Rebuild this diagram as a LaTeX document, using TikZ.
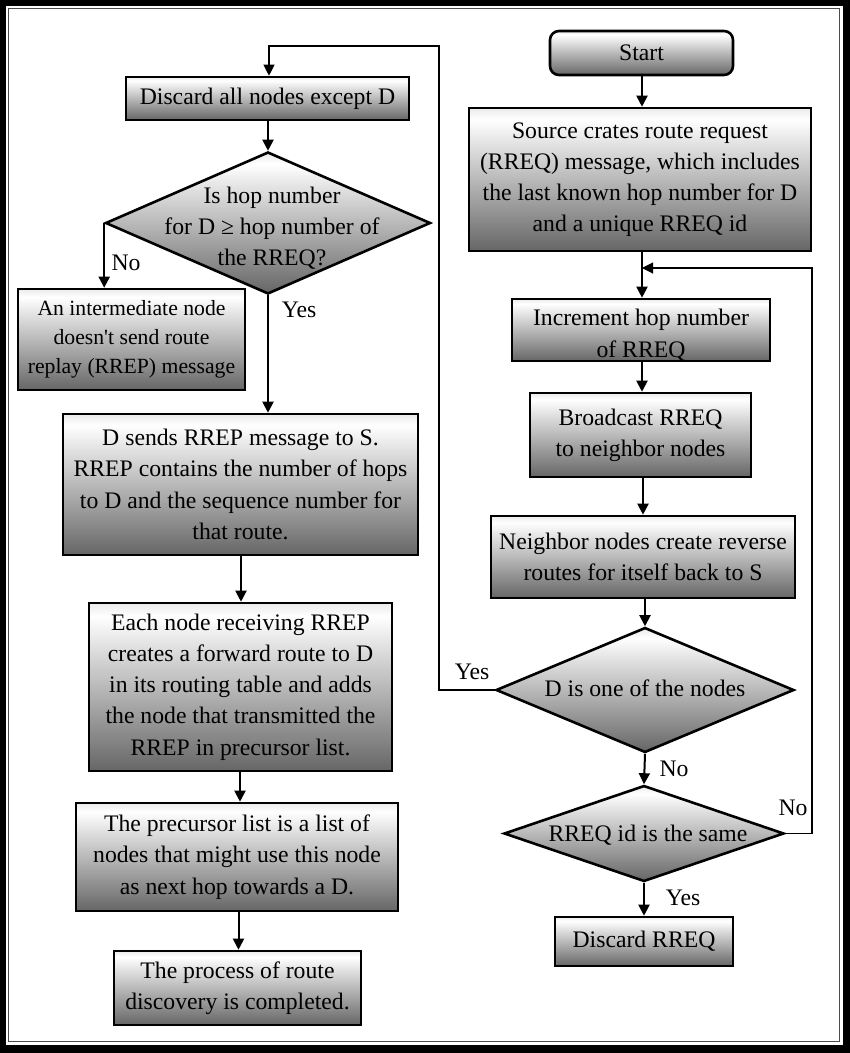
\documentclass[tikz,border=0pt]{standalone}
\usepackage{fontspec}
\setmainfont{Liberation Serif}
\newfontfamily\plainserif{Liberation Serif}
\usetikzlibrary{arrows.meta,shapes.geometric}
\pgfdeclareverticalshading{gshade}{100bp}{color(0bp)=(black!60); color(25bp)=(black!60); color(62bp)=(black!12); color(71bp)=(white); color(75bp)=(black!8); color(100bp)=(black!8)}
\begin{document}
\begin{tikzpicture}[x=1pt,y=-1pt,
  font=\fontsize{23.7}{31.2}\selectfont,
  box/.style={draw, line width=2.6pt, shade, shading=gshade, align=center, inner sep=0pt},
  sz/.style 2 args={minimum width=#1pt, minimum height=#2pt},
  dia/.style={draw, shape=diamond, line width=2.6pt, shade, shading=gshade, inner sep=0pt},
  dtext/.style={align=center, inner sep=0pt},
  lbl/.style={inner sep=0pt},
  arr/.style={line width=2pt, -{Triangle[length=11pt,width=11pt]}},
  farr/.style={line width=1.1pt, -{Triangle[length=11pt,width=11pt]}}]
\useasboundingbox (0,0) rectangle (850,1053);
% frame
\fill[black] (0,0) rectangle (850,1053);
\fill[white] (6,6) rectangle (843,1045);
\draw[black!70, line width=1.2pt] (8.5,8.5) rectangle (839.5,1041.5);

% left column
\node[box, sz={283}{43}] (dall) at (267.5,98.5) {Discard all nodes except D};
\node[dia, minimum width=325pt, minimum height=142pt] (d1) at (268,223) {};
\node[dtext] (d1t) at (272,228) {Is hop number\\for D ≥ hop number of\\the RREQ?};
\node[box, sz={227}{101}, font=\fontsize{21.7}{28.7}\selectfont] (inter) at (131.5,339.5) {An intermediate node\\doesn{\plainserif '}t send route\\replay (RREP) message};
\node[box, sz={355}{141}] (dsend) at (240.5,484.5) {D sends RREP message to S.\\RREP contains the number of hops\\to D and the sequence number for\\that route.};
\node[box, sz={303}{168}] (each) at (240.5,687) {Each node receiving RREP\\creates a forward route to D\\in its routing table and adds\\the node that transmitted the\\RREP in precursor list.};
\node[box, sz={322}{108}] (prec) at (237,857) {The precursor list is a list of\\nodes that might use this node\\as next hop towards a D.};
\node[box, sz={247}{74}] (done) at (237.5,988) {The process of route\\discovery is completed.};

% right column
\node[box, sz={183}{44}, rounded corners=9pt] (start) at (641.5,53) {Start};
\node[box, sz={342}{143}] (src) at (640,179.5) {Source crates route request\\(RREQ) message, which includes\\the last known hop number for D\\and a unique RREQ id};
\node[box, sz={258}{56}] (inc) at (641,330) {\rule{0pt}{27pt}Increment hop number\\of RREQ};
\node[box, sz={221}{84}] (bc) at (640.5,435) {Broadcast RREQ\\to neighbor nodes};
\node[box, sz={304}{82}] (nb) at (643,557) {Neighbor nodes create reverse\\routes for itself back to S};
\node[dia, minimum width=298pt, minimum height=125pt] (d2) at (645,690) {};
\node[dtext] (d2t) at (645,688) {D is one of the nodes};
\node[dia, minimum width=280pt, minimum height=96pt] (d3) at (644,833.5) {};
\node[dtext] (d3t) at (648,835) {RREQ id is the same};
\node[box, sz={178}{49}] (drreq) at (644,941.5) {Discard RREQ};

% labels
\node[lbl] (lno1) at (126,263) {No};
\node[lbl] (lyes1) at (299,310) {Yes};
\node[lbl] (lyes2) at (472,672) {Yes};
\node[lbl] (lno2) at (674,769) {No};
\node[lbl] (lno3) at (793,808) {No};
\node[lbl] (lyes3) at (683,898) {Yes};

% coordinates
\coordinate (topl) at (439,46);
\coordinate (rjoin) at (642,268);
\coordinate (rright) at (812,833.5);

% connectors right column
\draw[arr] (start.south -| 642,0) -- (src.north -| 642,0);
\draw[arr] (src.south -| 642,0) -- (inc.north -| 642,0);
\draw[arr] (inc.south -| 642,0) -- (bc.north -| 642,0);
\draw[arr] (bc.south -| 643,0) -- (nb.north -| 643,0);
\draw[arr] (nb.south -| 645,0) -- (d2.north);
\draw[arr] (d2.south) -- (d3.north);
\draw[arr] (d3.south) -- (drreq.north -| d3.south);
\draw[farr] (d3.east) -- (rright) |- (rjoin);
\draw[farr] (d2.west) -| (topl) -| (dall.north -| 269,0);

% connectors left column
\draw[arr] (dall.south -| 268,0) -- (d1.north);
\draw[arr] (d1.west) -- (d1.west |- inter.north);
\draw[arr] (d1.south) -- (d1.south |- dsend.north);
\draw[arr] (dsend.south -| 241,0) -- (each.north -| 241,0);
\draw[arr] (each.south -| 240,0) -- (prec.north -| 240,0);
\draw[arr] (prec.south -| 238.5,0) -- (done.north -| 238.5,0);
\end{tikzpicture}
\end{document}
